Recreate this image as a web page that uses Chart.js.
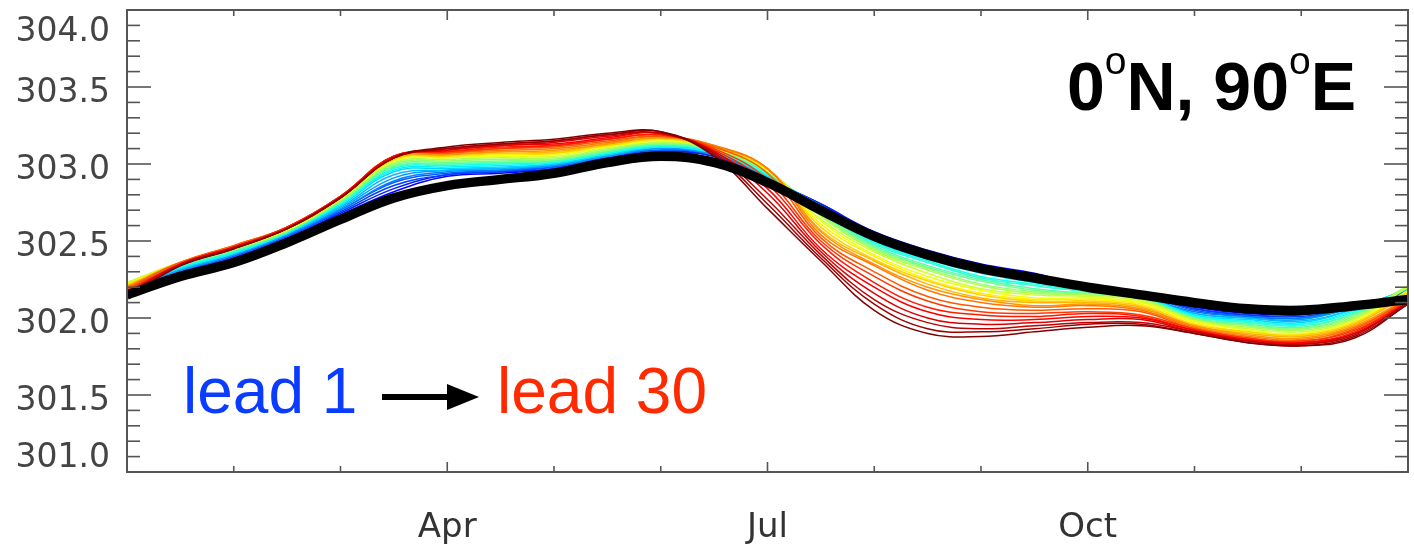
<!DOCTYPE html>
<html>
<head>
<meta charset="utf-8">
<script src="https://cdn.jsdelivr.net/npm/chart.js@4.4.1/dist/chart.umd.min.js"></script>
<style>
  html, body { margin: 0; padding: 0; background: #fff; }
  #wrap { width: 1414px; height: 551px; position: relative; }
</style>
</head>
<body>
<div id="wrap"><canvas id="sstChart"></canvas></div>
<script>
// time in months since Jan 1 (half-month steps)
const monthPos = [0, 0.5, 1, 1.5, 2, 2.5, 3, 3.5, 4, 4.5, 5, 5.5, 6, 6.5, 7, 7.5, 8, 8.5, 9, 9.5, 10, 10.5, 11, 11.5, 12];

const tickMonths = [3, 6, 9];
const tickNames = ['Apr', 'Jul', 'Oct'];
const yLabels = [301.0, 301.5, 302.0, 302.5, 303.0, 303.5, 304.0];

// thick black curve
const observed = [302.15, 302.27, 302.36, 302.49, 302.64, 302.78, 302.86, 302.90, 302.94, 303.01, 303.05, 303.01, 302.88,
                  302.70, 302.53, 302.41, 302.32, 302.26, 302.20, 302.15, 302.10, 302.06, 302.05, 302.08, 302.12];

// one row per time step, columns = lead 1 .. lead 30
const forecastByTime = [
  [302.18,302.18,302.19,302.19,302.19,302.19,302.20,302.20,302.20,302.21,302.21,302.22,302.22,302.23,302.23,302.23,302.22,302.22,302.21,302.21,302.20,302.20,302.19,302.18,302.17,302.16,302.16,302.15,302.14,302.13],
  [302.29,302.29,302.30,302.30,302.31,302.31,302.32,302.32,302.33,302.33,302.34,302.34,302.35,302.35,302.36,302.36,302.36,302.36,302.36,302.36,302.36,302.36,302.36,302.35,302.35,302.35,302.35,302.34,302.34,302.34],
  [302.39,302.39,302.40,302.40,302.41,302.41,302.42,302.42,302.42,302.43,302.43,302.44,302.44,302.45,302.45,302.45,302.46,302.46,302.46,302.46,302.47,302.47,302.47,302.46,302.46,302.46,302.46,302.45,302.45,302.45],
  [302.52,302.52,302.53,302.53,302.54,302.54,302.55,302.55,302.55,302.56,302.56,302.56,302.56,302.57,302.57,302.57,302.58,302.58,302.58,302.58,302.59,302.59,302.59,302.59,302.59,302.58,302.58,302.58,302.58,302.58],
  [302.67,302.68,302.69,302.70,302.70,302.71,302.72,302.73,302.74,302.74,302.75,302.75,302.76,302.76,302.77,302.77,302.78,302.78,302.78,302.78,302.79,302.79,302.79,302.79,302.79,302.79,302.78,302.78,302.78,302.78],
  [302.82,302.84,302.86,302.88,302.89,302.91,302.93,302.95,302.96,302.97,302.98,302.98,302.99,303.00,303.01,303.02,303.02,303.03,303.03,303.04,303.04,303.05,303.05,303.05,303.05,303.05,303.04,303.04,303.04,303.04],
  [302.92,302.93,302.93,302.94,302.95,302.96,302.96,302.97,302.98,302.99,303.00,303.00,303.01,303.02,303.03,303.04,303.04,303.05,303.05,303.06,303.06,303.07,303.07,303.08,303.08,303.09,303.09,303.10,303.10,303.11],
  [302.94,302.95,302.95,302.96,302.96,302.97,302.97,302.98,302.99,303.00,303.01,303.01,303.02,303.03,303.04,303.05,303.05,303.06,303.07,303.08,303.08,303.09,303.10,303.10,303.11,303.12,303.12,303.13,303.13,303.14],
  [302.97,302.97,302.98,302.98,302.99,302.99,303.00,303.00,303.01,303.01,303.02,303.02,303.03,303.03,303.04,303.05,303.06,303.07,303.07,303.08,303.09,303.10,303.11,303.12,303.12,303.13,303.14,303.15,303.15,303.16],
  [303.04,303.04,303.05,303.05,303.05,303.05,303.06,303.06,303.07,303.07,303.08,303.08,303.09,303.09,303.10,303.11,303.11,303.12,303.12,303.13,303.13,303.14,303.15,303.16,303.16,303.17,303.18,303.19,303.19,303.20],
  [303.08,303.08,303.09,303.09,303.10,303.10,303.11,303.11,303.11,303.12,303.12,303.13,303.13,303.14,303.14,303.15,303.15,303.16,303.16,303.17,303.17,303.18,303.18,303.19,303.19,303.20,303.20,303.20,303.21,303.21],
  [303.05,303.05,303.06,303.06,303.06,303.06,303.07,303.07,303.07,303.08,303.08,303.09,303.09,303.10,303.10,303.10,303.11,303.11,303.11,303.11,303.12,303.12,303.11,303.10,303.09,303.08,303.08,303.07,303.06,303.05],
  [302.90,302.90,302.91,302.91,302.91,302.91,302.92,302.92,302.93,302.93,302.94,302.94,302.95,302.95,302.96,302.96,302.96,302.96,302.97,302.97,302.97,302.97,302.94,302.90,302.87,302.84,302.81,302.77,302.74,302.71],
  [302.74,302.74,302.73,302.73,302.73,302.73,302.72,302.72,302.71,302.70,302.69,302.69,302.68,302.67,302.66,302.64,302.63,302.61,302.59,302.57,302.56,302.54,302.52,302.50,302.48,302.45,302.43,302.41,302.39,302.37],
  [302.56,302.55,302.55,302.54,302.53,302.52,302.52,302.51,302.50,302.49,302.48,302.47,302.46,302.45,302.44,302.43,302.41,302.40,302.38,302.37,302.35,302.34,302.30,302.27,302.23,302.20,302.16,302.12,302.09,302.05],
  [302.44,302.43,302.43,302.42,302.41,302.40,302.40,302.39,302.38,302.37,302.36,302.34,302.33,302.32,302.31,302.29,302.27,302.25,302.24,302.22,302.20,302.18,302.14,302.11,302.07,302.04,302.00,301.97,301.93,301.90],
  [302.35,302.34,302.34,302.33,302.32,302.31,302.31,302.30,302.29,302.27,302.26,302.25,302.24,302.22,302.21,302.19,302.18,302.16,302.15,302.13,302.12,302.10,302.07,302.04,302.02,301.99,301.96,301.93,301.91,301.88],
  [302.29,302.28,302.28,302.27,302.26,302.25,302.25,302.24,302.23,302.22,302.21,302.19,302.18,302.17,302.16,302.15,302.13,302.12,302.11,302.10,302.08,302.07,302.05,302.03,302.01,301.99,301.97,301.95,301.93,301.91],
  [302.20,302.20,302.19,302.19,302.19,302.19,302.18,302.18,302.18,302.17,302.17,302.16,302.16,302.15,302.15,302.14,302.13,302.12,302.11,302.10,302.09,302.08,302.06,302.04,302.03,302.01,301.99,301.97,301.96,301.94],
  [302.15,302.15,302.15,302.15,302.14,302.14,302.14,302.14,302.14,302.13,302.13,302.13,302.13,302.12,302.12,302.11,302.10,302.09,302.08,302.07,302.06,302.05,302.04,302.02,302.01,302.00,301.99,301.97,301.96,301.95],
  [302.07,302.06,302.06,302.05,302.04,302.03,302.03,302.02,302.02,302.01,302.01,302.00,302.00,301.99,301.99,301.98,301.98,301.97,301.96,301.95,301.95,301.94,301.93,301.93,301.92,301.92,301.91,301.91,301.90,301.90],
  [302.03,302.02,302.02,302.01,302.01,302.00,302.00,301.99,301.98,301.98,301.97,301.96,301.95,301.95,301.94,301.93,301.92,301.91,301.91,301.90,301.89,301.88,301.87,301.87,301.86,301.86,301.85,301.85,301.84,301.84],
  [302.03,302.02,302.01,302.00,302.00,301.99,301.98,301.97,301.96,301.96,301.95,301.94,301.93,301.93,301.92,301.91,301.90,301.89,301.89,301.88,301.87,301.86,301.85,301.85,301.84,301.84,301.83,301.83,301.82,301.82],
  [302.08,302.08,302.07,302.07,302.07,302.07,302.06,302.06,302.05,302.04,302.03,302.03,302.02,302.01,302.00,301.99,301.98,301.97,301.97,301.96,301.95,301.94,301.93,301.92,301.91,301.90,301.90,301.89,301.88,301.87],
  [302.16,302.16,302.17,302.17,302.18,302.18,302.19,302.19,302.19,302.20,302.20,302.20,302.20,302.21,302.21,302.20,302.18,302.17,302.16,302.15,302.13,302.12,302.12,302.11,302.11,302.10,302.10,302.10,302.09,302.09]
];

const nLeads = 30;

// blue -> cyan -> yellow -> red -> dark red
function jet(t) {
  const s = 0.125 + 0.875 * t;
  const c = v => Math.round(255 * Math.max(0, Math.min(1, v)));
  const r = c(1.5 - Math.abs(4 * s - 3));
  const g = c(1.5 - Math.abs(4 * s - 2));
  const b = c(1.5 - Math.abs(4 * s - 1));
  return `rgb(${r},${g},${b})`;
}

const datasets = [{
  label: 'observed',
  data: monthPos.map((m, i) => ({x: m, y: observed[i]})),
  borderColor: '#000',
  borderWidth: 9.5,
  order: 0
}];
for (let lead = 1; lead <= nLeads; lead++) {
  datasets.push({
    label: 'lead ' + lead,
    data: monthPos.map((m, i) => ({x: m, y: forecastByTime[i][lead - 1]})),
    borderColor: jet((lead - 1) / (nLeads - 1)),
    borderWidth: 1.5,
    order: nLeads + 1 - lead
  });
}

const sans = "'Liberation Sans', Arial, sans-serif";

// box, inward ticks on all four sides, y labels, annotations
const framePlugin = {
  id: 'frame',
  afterDraw(chart) {
    const {ctx, chartArea: a, scales: {x, y}} = chart;
    const seg = (x1, y1, x2, y2) => { ctx.beginPath(); ctx.moveTo(x1, y1); ctx.lineTo(x2, y2); ctx.stroke(); };
    ctx.save();
    ctx.strokeStyle = '#555';
    ctx.lineWidth = 2;
    ctx.strokeRect(a.left, a.top, a.right - a.left, a.bottom - a.top);
    ctx.lineWidth = 1.6;
    for (let i = 0; i <= 30; i++) {
      const py = y.getPixelForValue(301 + i * 0.1);
      const len = i % 5 === 0 ? 24 : 13;
      seg(a.left, py, a.left + len, py);
      seg(a.right, py, a.right - len, py);
    }
    for (let m = 1; m < 12; m++) {
      const px = x.getPixelForValue(m);
      const len = m % 3 === 0 ? 10 : 6;
      seg(px, a.bottom, px, a.bottom - len);
      seg(px, a.top, px, a.top + len);
    }

    // y labels sit a little below their tick, and are kept inside the box height
    ctx.font = '33px "DejaVu Sans"';
    ctx.fillStyle = '#444';
    ctx.textAlign = 'right';
    ctx.textBaseline = 'middle';
    yLabels.forEach(v => {
      const py = Math.min(Math.max(y.getPixelForValue(v) + 6, a.top + 22), a.bottom - 14);
      ctx.fillText(v.toFixed(1), a.left - 17, py);
    });

    // location label, superscript "o" as degree mark
    ctx.textAlign = 'left';
    ctx.textBaseline = 'alphabetic';
    const parts = [['0', true], ['o', false], ['N, 90', true], ['o', false], ['E', true]];
    const big = 'bold 68px ' + sans, small = '39px ' + sans;
    let total = 0;
    parts.forEach(([t, b]) => { ctx.font = b ? big : small; total += ctx.measureText(t).width; });
    let cx = 1356 - total;
    ctx.fillStyle = '#000';
    parts.forEach(([t, b]) => {
      ctx.font = b ? big : small;
      ctx.fillText(t, cx, b ? 110 : 74);
      cx += ctx.measureText(t).width;
    });

    ctx.font = '64px ' + sans;
    ctx.fillStyle = '#0a3cff';
    ctx.fillText('lead 1', 183, 413);
    ctx.fillStyle = '#ff2a00';
    ctx.fillText('lead 30', 497, 413);

    ctx.fillStyle = '#000';
    ctx.strokeStyle = '#000';
    ctx.lineWidth = 6;
    seg(382, 397, 452, 397);
    ctx.beginPath();
    ctx.moveTo(447, 384);
    ctx.lineTo(479, 397);
    ctx.lineTo(447, 410);
    ctx.closePath();
    ctx.fill();
    ctx.restore();
  }
};

new Chart(document.getElementById('sstChart').getContext('2d'), {
  type: 'line',
  data: {datasets},
  plugins: [framePlugin],
  options: {
    responsive: true,
    maintainAspectRatio: false,
    animation: false,
    layout: {padding: {left: 0, right: 6, top: 10, bottom: 0}},
    elements: {
      point: {radius: 0},
      line: {tension: 0.4, fill: false}
    },
    plugins: {
      legend: {display: false},
      tooltip: {enabled: false}
    },
    scales: {
      x: {
        type: 'linear',
        min: 0,
        max: 12,
        grid: {display: false, drawTicks: false},
        border: {display: false},
        afterBuildTicks: (scale) => { scale.ticks = tickMonths.map(v => ({value: v})); },
        ticks: {
          autoSkip: false,
          maxRotation: 0,
          padding: 36,
          color: '#333',
          font: {family: 'DejaVu Sans', size: 34},
          callback: (v) => tickNames[tickMonths.indexOf(v)] || ''
        },
        afterFit: (s) => { s.height = 79; s.paddingLeft = 0; s.paddingRight = 0; }
      },
      y: {
        min: 301,
        max: 304,
        grid: {display: false, drawTicks: false},
        border: {display: false},
        ticks: {display: false},
        afterFit: (s) => { s.width = 127; s.paddingTop = 0; s.paddingBottom = 0; }
      }
    }
  }
});
</script>
</body>
</html>
